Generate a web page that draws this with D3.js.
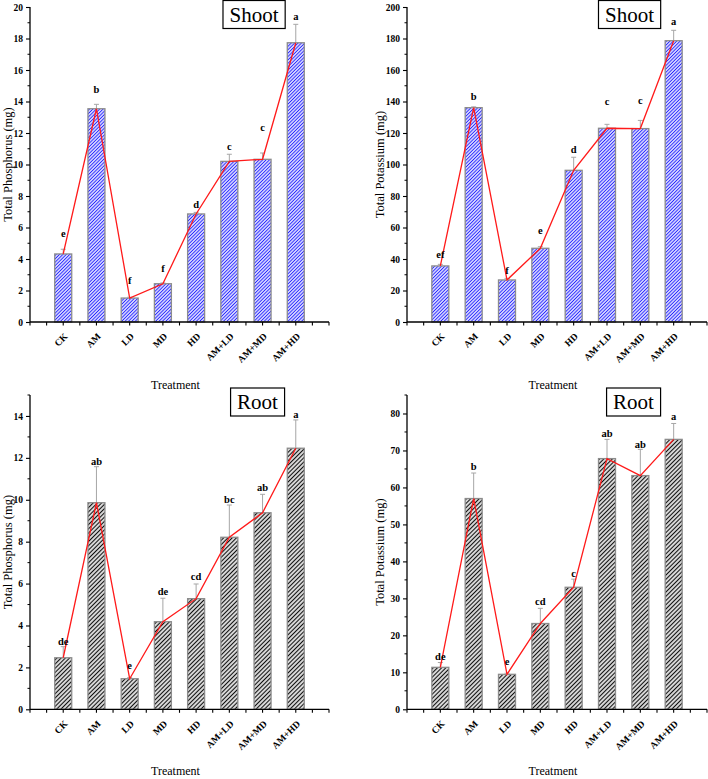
<!DOCTYPE html>
<html><head><meta charset="utf-8">
<script src="https://cdn.jsdelivr.net/npm/d3@7"></script>
<style>
html,body{margin:0;padding:0;background:#fff;}
svg{display:block;}
</style></head>
<body>
<svg id="chart" width="708" height="779"></svg>
<script>
// ---------- DATA ----------
const categories = ["CK","AM","LD","MD","HD","AM+LD","AM+MD","AM+HD"];

const shootP      = [4.32, 13.54, 1.52, 2.43, 6.86, 10.20, 10.33, 17.73];
const shootPErr   = [0.30, 0.28, 0.05, 0.05, 0.10, 0.45, 0.40, 1.17];
const shootPSig   = ["e","b","f","f","d","c","c","a"];
const shootPSigY  = [5.65, 14.79, 2.67, 3.43, 7.49, 11.17, 12.34, 19.38];

const shootK      = [35.6, 136.1, 26.7, 46.8, 96.3, 123.0, 122.8, 178.6];
const shootKErr   = [1.0, 0.5, 1.0, 1.0, 8.3, 2.5, 5.2, 6.6];
const shootKSig   = ["ef","b","f","e","d","c","c","a"];
const shootKSigY  = [43.2, 143.3, 33.0, 58.0, 109.8, 139.9, 141.0, 191.1];

const rootP       = [2.46, 9.86, 1.46, 4.18, 5.28, 8.21, 9.38, 12.46];
const rootPErr    = [0.53, 1.72, 0.05, 1.12, 0.70, 1.54, 0.88, 1.35];
const rootPSig    = ["de","ab","e","de","cd","bc","ab","a"];
const rootPSigY   = [3.23, 11.85, 2.08, 5.61, 6.33, 10.04, 10.58, 14.08];

const rootK       = [11.35, 57.0, 9.46, 23.2, 33.0, 67.8, 63.2, 73.0];
const rootKErr    = [1.3, 6.9, 0.3, 4.1, 2.2, 5.2, 7.1, 4.3];
const rootKSig    = ["de","b","e","cd","c","ab","ab","a"];
const rootKSigY   = [14.4, 65.6, 13.05, 29.3, 36.8, 74.6, 71.7, 79.1];

const yTicksShootP = [0,2,4,6,8,10,12,14,16,18,20];
const yTicksShootK = [0,20,40,60,80,100,120,140,160,180,200];
const yTicksRootP  = [0,2,4,6,8,10,12,14];
const yTicksRootK  = [0,10,20,30,40,50,60,70,80];

const panelTitles = ["Shoot","Shoot","Root","Root"];
const yTitles = ["Total Phosphorus (mg)","Total Potassium (mg)","Total Phosphorus (mg)","Total Potassium (mg)"];
const xTitle = "Treatment";

// ---------- LAYOUT ----------
const svg = d3.select("#chart");
const defs = svg.append("defs");

function makeHatch(id, color, size, width){
  const p = defs.append("pattern").attr("id", id)
    .attr("patternUnits","userSpaceOnUse")
    .attr("width", size).attr("height", size)
    .attr("patternTransform","rotate(45)");
  p.append("rect").attr("width", size).attr("height", size).attr("fill","#fff");
  p.append("line").attr("x1", size/2).attr("y1", 0).attr("x2", size/2).attr("y2", size)
    .attr("stroke", color).attr("stroke-width", width);
}
makeHatch("hatchBlue", "#2626ff", 2.4, 1.15);
makeHatch("hatchBlack", "#111", 3.0, 1.35);

const serif = "'Liberation Serif','Times New Roman',serif";

const panels = [
  {left:30,  right:329, top:7,   bottom:322,   max:20,  minor:1, ticks:yTicksShootP, vals:shootP, err:shootPErr, sig:shootPSig, sigY:shootPSigY, fill:"url(#hatchBlue)",  title:panelTitles[0], yTitle:yTitles[0], boxCx:254,   boxCy:14.5, xTitleY:385, yTitleX:8},
  {left:407, right:707, top:7,   bottom:322,   max:200, minor:10,ticks:yTicksShootK, vals:shootK, err:shootKErr, sig:shootKSig, sigY:shootKSigY, fill:"url(#hatchBlue)",  title:panelTitles[1], yTitle:yTitles[1], boxCx:629.5, boxCy:14.5, xTitleY:385, yTitleX:380},
  {left:30,  right:329, top:395, bottom:709.3, max:15,  minor:1, ticks:yTicksRootP,  vals:rootP,  err:rootPErr,  sig:rootPSig,  sigY:rootPSigY,  fill:"url(#hatchBlack)", title:panelTitles[2], yTitle:yTitles[2], boxCx:257.5, boxCy:402, xTitleY:771, yTitleX:8},
  {left:407, right:707, top:395, bottom:709.3, max:85,  minor:5, ticks:yTicksRootK,  vals:rootK,  err:rootKErr,  sig:rootKSig,  sigY:rootKSigY,  fill:"url(#hatchBlack)", title:panelTitles[3], yTitle:yTitles[3], boxCx:633.5, boxCy:402, xTitleY:771, yTitleX:380}
];

panels.forEach(p => {
  const g = svg.append("g");
  const x = d3.scalePoint().domain(categories).range([p.left, p.right]).padding(1);
  const y = d3.scaleLinear().domain([0, p.max]).range([p.bottom, p.top]);
  const step = x.step();
  const barW = 17;

  // bars
  g.selectAll("rect.bar").data(categories).join("rect")
    .attr("x", d => x(d) - barW/2)
    .attr("y", (d,i) => y(p.vals[i]))
    .attr("width", barW)
    .attr("height", (d,i) => y(0) - y(p.vals[i]))
    .attr("fill", p.fill)
    .attr("stroke", "#8c8c8c").attr("stroke-width", 1.3);

  // error bars
  categories.forEach((c,i) => {
    const cx = x(c), y1 = y(p.vals[i]), y2 = y(p.vals[i] + p.err[i]);
    g.append("line").attr("x1",cx).attr("x2",cx).attr("y1",y1).attr("y2",y2)
      .attr("stroke","#a6a6a6").attr("stroke-width",1);
    g.append("line").attr("x1",cx-2.5).attr("x2",cx+2.5).attr("y1",y2).attr("y2",y2)
      .attr("stroke","#a6a6a6").attr("stroke-width",1);
  });

  // red line
  const line = d3.line().x((d,i) => x(categories[i])).y(d => y(d));
  g.append("path").datum(p.vals).attr("d", line)
    .attr("fill","none").attr("stroke","#ff1a1a").attr("stroke-width",1.3);

  // significance letters
  g.selectAll("text.sig").data(categories).join("text")
    .attr("x", d => x(d))
    .attr("y", (d,i) => y(p.sigY[i]))
    .attr("dy","0.35em")
    .attr("text-anchor","middle")
    .attr("font-family", serif).attr("font-weight","bold").attr("font-size",10.5)
    .text((d,i) => p.sig[i]);

  // y axis
  const yAxis = d3.axisLeft(y).tickValues(p.ticks).tickSize(4).tickPadding(3).tickFormat(d3.format("d"));
  const ya = g.append("g").attr("transform", `translate(${p.left},0)`).call(yAxis);
  ya.select(".domain").attr("d", `M0,${p.bottom}V${p.top}`).attr("stroke","#000").attr("stroke-width",1.3);
  ya.selectAll(".tick line").attr("stroke","#000").attr("stroke-width",1.1);
  ya.selectAll(".tick text").attr("font-family", serif).attr("font-weight","bold").attr("font-size",9.5).attr("fill","#000");
  // minor y ticks
  const minorY = d3.range(0, p.max + 1e-9, p.minor).filter(v => !p.ticks.includes(v));
  ya.selectAll("line.minor").data(minorY).join("line")
    .attr("x1",-2.5).attr("x2",0).attr("y1",d=>y(d)).attr("y2",d=>y(d))
    .attr("stroke","#000").attr("stroke-width",1);

  // x axis
  const xa = g.append("g");
  xa.append("line").attr("x1",p.left).attr("x2",p.right).attr("y1",p.bottom).attr("y2",p.bottom)
    .attr("stroke","#000").attr("stroke-width",1.3);
  const halfTicks = d3.range(0, 19).map(k => p.left + k*step/2).filter(v => v <= p.right + 0.5);
  xa.selectAll("line.xt").data(halfTicks).join("line")
    .attr("x1",d=>d).attr("x2",d=>d).attr("y1",p.bottom).attr("y2",p.bottom+3.5)
    .attr("stroke","#000").attr("stroke-width",1.1);
  xa.selectAll("text.xl").data(categories).join("text")
    .attr("transform", d => `translate(${x(d)+5},${p.bottom+15}) rotate(-45)`)
    .attr("text-anchor","end")
    .attr("font-family", serif).attr("font-weight","bold").attr("font-size",9.5)
    .text(d => d);

  // axis titles
  g.append("text").attr("x", (p.left+p.right)/2 - 4).attr("y", p.xTitleY).attr("dy","0.35em")
    .attr("text-anchor","middle").attr("font-family", serif).attr("font-size",12).text(xTitle);
  g.append("text").attr("transform", `translate(${p.yTitleX},${(p.top+p.bottom)/2}) rotate(-90)`)
    .attr("dy","0.35em").attr("text-anchor","middle")
    .attr("font-family", serif).attr("font-size",12.5).text(p.yTitle);

  // title box
  const t = g.append("text").attr("x", p.boxCx).attr("y", p.boxCy).attr("dy","0.35em")
    .attr("text-anchor","middle").attr("font-family", serif).attr("font-size",21).text(p.title);
  const bb = t.node().getBBox();
  g.insert("rect","text").attr("x", bb.x - 6.5).attr("y", p.boxCy - 14).attr("width", bb.width + 13).attr("height", 28)
    .attr("fill","#fff").attr("stroke","#000").attr("stroke-width",1.2);
});
</script>
</body></html>
